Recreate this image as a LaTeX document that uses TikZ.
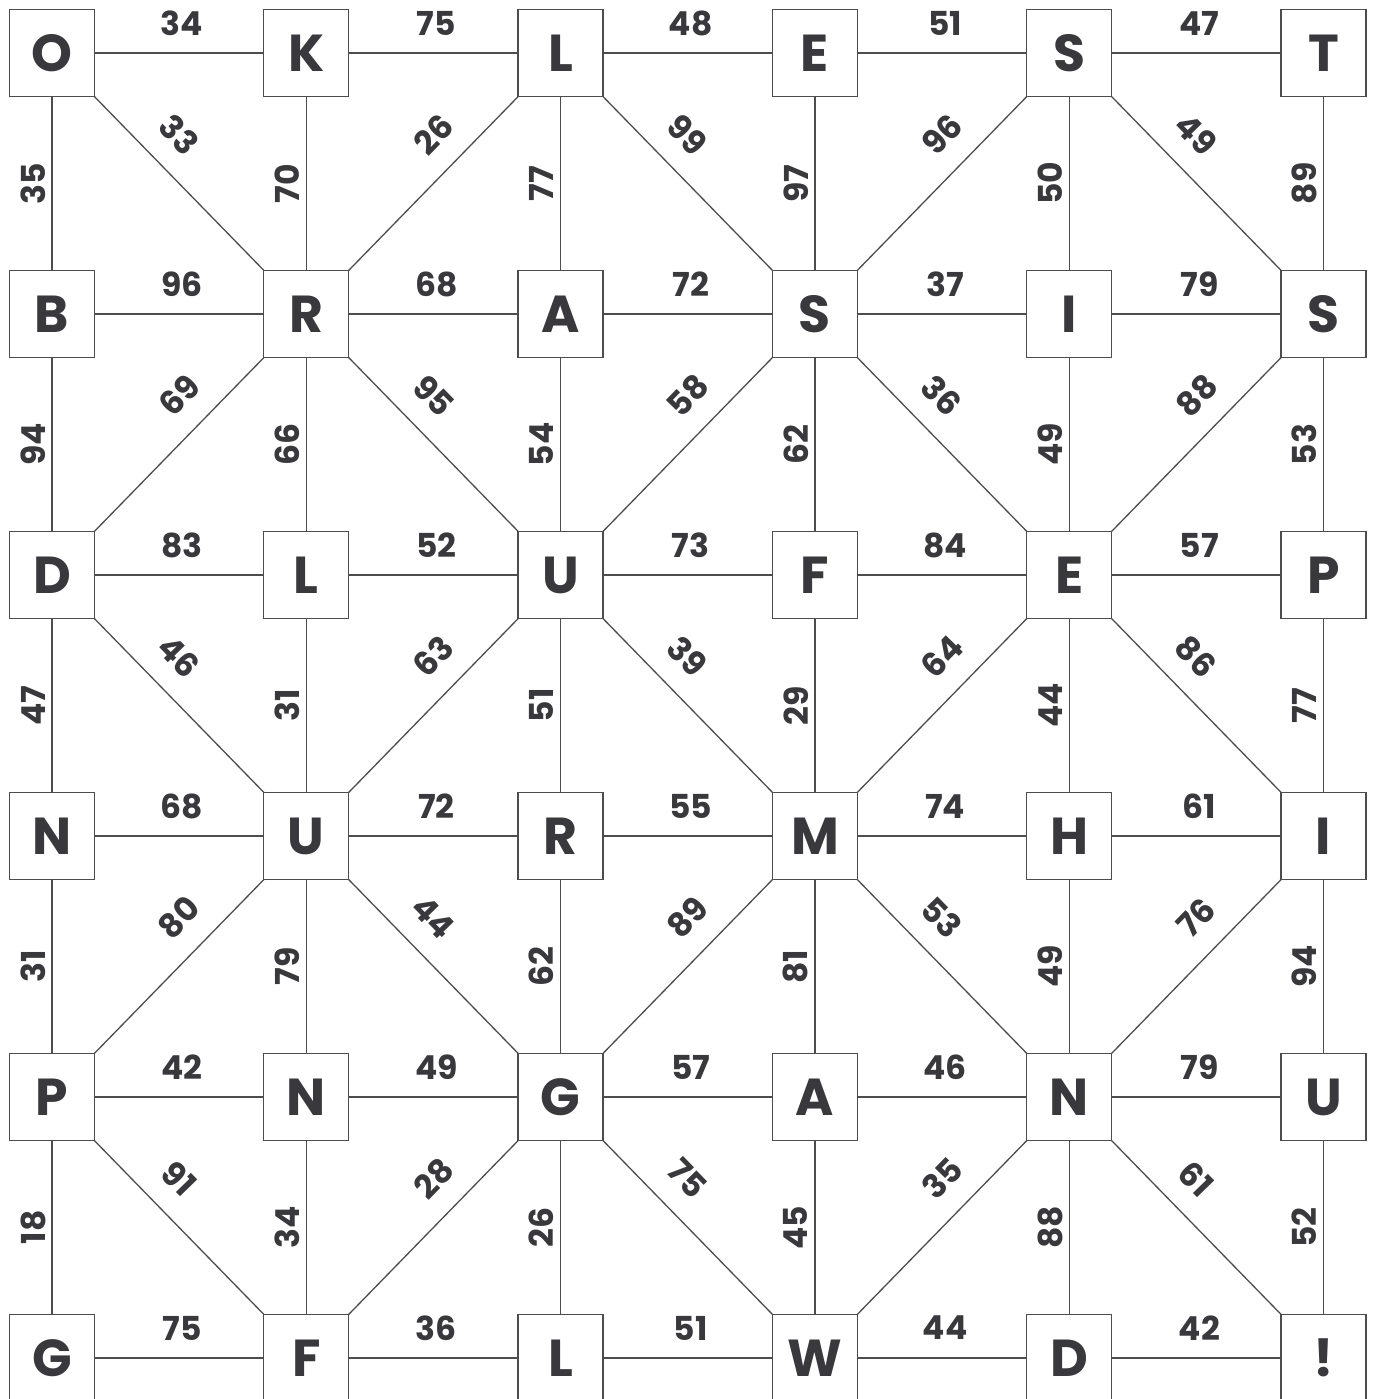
\documentclass[tikz,border=0pt]{standalone}
\usepackage{fontspec}
\setmainfont{Poppins}
\usepackage{xcolor}
\usepackage{tikz}
\usetikzlibrary{positioning}
\definecolor{gridInk}{HTML}{38383D}
\definecolor{gridLine}{HTML}{4D4D4D}

\begin{document}
\begin{tikzpicture}[
  x=1pt, y=1pt,
  node distance=174pt and 169.3pt,
  cellbox/.style={
    rectangle, draw=gridLine, line width=1.3pt,
    fill=white, minimum width=85pt, minimum height=87pt,
    inner sep=0pt, outer sep=0pt, font=\fontsize{52}{56}\selectfont\bfseries,
    text=gridInk
  },
  link/.style={draw=gridLine, line width=1.3pt},
  wt/.style={
    midway, font=\fontsize{33}{36}\selectfont\bfseries,
    text=gridInk, inner sep=0pt
  },
  hlab/.style={wt, xshift=3pt, yshift=30pt},
  vlab/.style={wt, xshift=-19pt, rotate=90},
  dnlab/.style={wt, yshift=49pt, rotate=-45.8},
  uplab/.style={wt, yshift=49pt, rotate=45.8},
]
\useasboundingbox (0,0) rectangle (1374,1399);

% === Letter grid, top row first ===
\node[cellbox] (a1) at (52,1346) {O};
\node[cellbox, right=of a1] (a2) {K};
\node[cellbox, right=of a2] (a3) {L};
\node[cellbox, right=of a3] (a4) {E};
\node[cellbox, right=of a4] (a5) {S};
\node[cellbox, right=of a5] (a6) {T};

\node[cellbox, below=of a1] (b1) {B};
\node[cellbox, right=of b1] (b2) {R};
\node[cellbox, right=of b2] (b3) {A};
\node[cellbox, right=of b3] (b4) {S};
\node[cellbox, right=of b4] (b5) {I};
\node[cellbox, right=of b5] (b6) {S};

\node[cellbox, below=of b1] (c1) {D};
\node[cellbox, right=of c1] (c2) {L};
\node[cellbox, right=of c2] (c3) {U};
\node[cellbox, right=of c3] (c4) {F};
\node[cellbox, right=of c4] (c5) {E};
\node[cellbox, right=of c5] (c6) {P};

\node[cellbox, below=of c1] (d1) {N};
\node[cellbox, right=of d1] (d2) {U};
\node[cellbox, right=of d2] (d3) {R};
\node[cellbox, right=of d3] (d4) {M};
\node[cellbox, right=of d4] (d5) {H};
\node[cellbox, right=of d5] (d6) {I};

\node[cellbox, below=of d1] (e1) {P};
\node[cellbox, right=of e1] (e2) {N};
\node[cellbox, right=of e2] (e3) {G};
\node[cellbox, right=of e3] (e4) {A};
\node[cellbox, right=of e4] (e5) {N};
\node[cellbox, right=of e5] (e6) {U};

\node[cellbox, below=of e1] (f1) {G};
\node[cellbox, right=of f1] (f2) {F};
\node[cellbox, right=of f2] (f3) {L};
\node[cellbox, right=of f3] (f4) {W};
\node[cellbox, right=of f4] (f5) {D};
\node[cellbox, right=of f5] (f6) {!};

% === Horizontal links ===
\draw[link] (a1) -- node[hlab] {34} (a2) -- node[hlab] {75} (a3)
  -- node[hlab] {48} (a4) -- node[hlab] {51} (a5) -- node[hlab] {47} (a6);
\draw[link] (b1) -- node[hlab] {96} (b2) -- node[hlab] {68} (b3)
  -- node[hlab] {72} (b4) -- node[hlab] {37} (b5) -- node[hlab] {79} (b6);
\draw[link] (c1) -- node[hlab] {83} (c2) -- node[hlab] {52} (c3)
  -- node[hlab] {73} (c4) -- node[hlab] {84} (c5) -- node[hlab] {57} (c6);
\draw[link] (d1) -- node[hlab] {68} (d2) -- node[hlab] {72} (d3)
  -- node[hlab] {55} (d4) -- node[hlab] {74} (d5) -- node[hlab] {61} (d6);
\draw[link] (e1) -- node[hlab] {42} (e2) -- node[hlab] {49} (e3)
  -- node[hlab] {57} (e4) -- node[hlab] {46} (e5) -- node[hlab] {79} (e6);
\draw[link] (f1) -- node[hlab] {75} (f2) -- node[hlab] {36} (f3)
  -- node[hlab] {51} (f4) -- node[hlab] {44} (f5) -- node[hlab] {42} (f6);

% === Vertical links ===
\draw[link] (a1) -- node[vlab] {35} (b1) -- node[vlab] {94} (c1)
  -- node[vlab] {47} (d1) -- node[vlab] {31} (e1) -- node[vlab] {18} (f1);
\draw[link] (a2) -- node[vlab] {70} (b2) -- node[vlab] {66} (c2)
  -- node[vlab] {31} (d2) -- node[vlab] {79} (e2) -- node[vlab] {34} (f2);
\draw[link] (a3) -- node[vlab] {77} (b3) -- node[vlab] {54} (c3)
  -- node[vlab] {51} (d3) -- node[vlab] {62} (e3) -- node[vlab] {26} (f3);
\draw[link] (a4) -- node[vlab] {97} (b4) -- node[vlab] {62} (c4)
  -- node[vlab] {29} (d4) -- node[vlab] {81} (e4) -- node[vlab] {45} (f4);
\draw[link] (a5) -- node[vlab] {50} (b5) -- node[vlab] {49} (c5)
  -- node[vlab] {44} (d5) -- node[vlab] {49} (e5) -- node[vlab] {88} (f5);
\draw[link] (a6) -- node[vlab] {89} (b6) -- node[vlab] {53} (c6)
  -- node[vlab] {77} (d6) -- node[vlab] {94} (e6) -- node[vlab] {52} (f6);

% === Diagonal links (zigzag between two rows) ===
\draw[link] (a1) -- node[dnlab] {33} (b2) -- node[uplab] {26} (a3)
  -- node[dnlab] {99} (b4) -- node[uplab] {96} (a5) -- node[dnlab] {49} (b6);
\draw[link] (c1) -- node[uplab] {69} (b2) -- node[dnlab] {95} (c3)
  -- node[uplab] {58} (b4) -- node[dnlab] {36} (c5) -- node[uplab] {88} (b6);
\draw[link] (c1) -- node[dnlab] {46} (d2) -- node[uplab] {63} (c3)
  -- node[dnlab] {39} (d4) -- node[uplab] {64} (c5) -- node[dnlab] {86} (d6);
\draw[link] (e1) -- node[uplab] {80} (d2) -- node[dnlab] {44} (e3)
  -- node[uplab] {89} (d4) -- node[dnlab] {53} (e5) -- node[uplab] {76} (d6);
\draw[link] (e1) -- node[dnlab] {91} (f2) -- node[uplab] {28} (e3)
  -- node[dnlab] {75} (f4) -- node[uplab] {35} (e5) -- node[dnlab] {61} (f6);

\end{tikzpicture}
\end{document}
